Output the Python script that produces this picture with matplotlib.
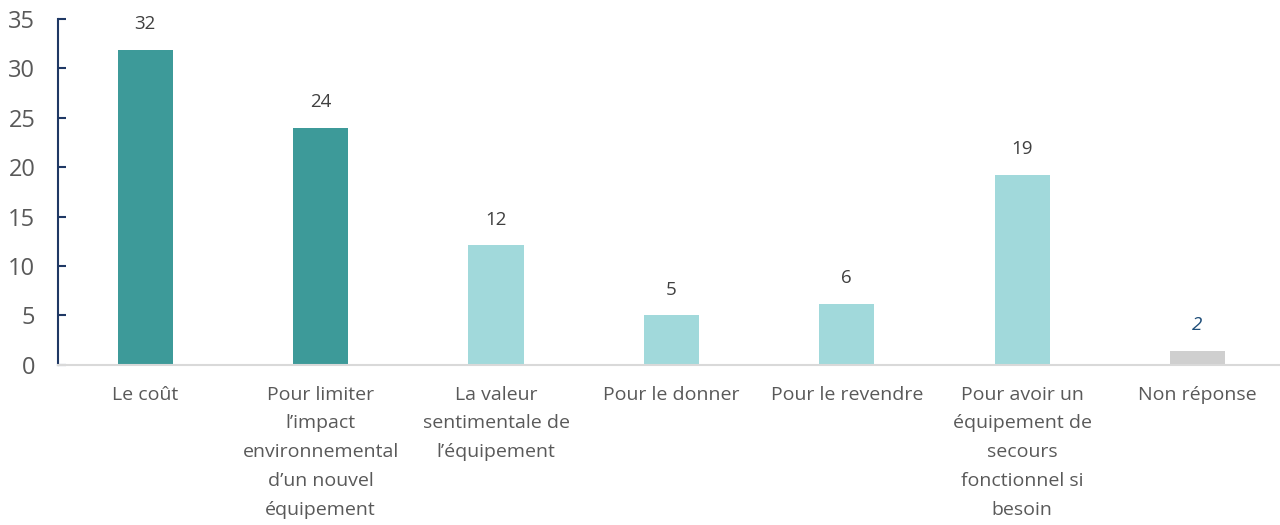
import numpy as np
import matplotlib.pyplot as plt

plt.rcParams['font.family'] = ['Open Sans', 'DejaVu Sans']

categories = ["Le coût",
              "Pour limiter\nl\u2019impact\nenvironnemental\nd\u2019un nouvel\néquipement",
              "La valeur\nsentimentale de\nl\u2019équipement",
              "Pour le donner",
              "Pour le revendre",
              "Pour avoir un\néquipement de\nsecours\nfonctionnel si\nbesoin",
              "Non réponse"]
values = [31.9, 24.0, 12.1, 5.0, 6.2, 19.2, 1.4]
labels = ["32", "24", "12", "5", "6", "19", "2"]
colors = ["#3d9a99", "#3d9a99", "#a1d9db", "#a1d9db", "#a1d9db", "#a1d9db", "#cfcfcf"]

fig = plt.figure(figsize=(12.8, 5.25), dpi=100)
ax = fig.add_axes([0.045, 0.305, 0.955, 0.659])

x = np.arange(len(categories))
bars = ax.bar(x, values, width=0.315, color=colors)

for i, (b, lab) in enumerate(zip(bars, labels)):
    last = i == len(labels) - 1
    ax.annotate(lab, (b.get_x() + b.get_width() / 2, b.get_height()),
                xytext=(0, 12), textcoords='offset points', ha='center', va='bottom',
                fontsize=13.5, color="#1f4e79" if last else "#404040",
                style='italic' if last else 'normal')

ax.set_xlim(-0.5, 6.47)
ax.set_ylim(0, 35)
ax.set_yticks(range(0, 36, 5))
ax.set_xticks(x)
ax.set_xticklabels(categories, fontsize=14, color="#595959", linespacing=1.77)
ax.tick_params(axis='x', length=0, pad=15)
ax.tick_params(axis='y', direction='in', length=6, width=1.5, color="#1f3864",
               labelsize=17, labelcolor="#595959", pad=16)

for s in ['top', 'right']:
    ax.spines[s].set_visible(False)
ax.spines['left'].set_color("#1f3864")
ax.spines['left'].set_linewidth(1.5)
ax.spines['bottom'].set_color("#d9d9d9")
ax.spines['bottom'].set_linewidth(1.5)

fig.savefig("out.png", dpi=100)
